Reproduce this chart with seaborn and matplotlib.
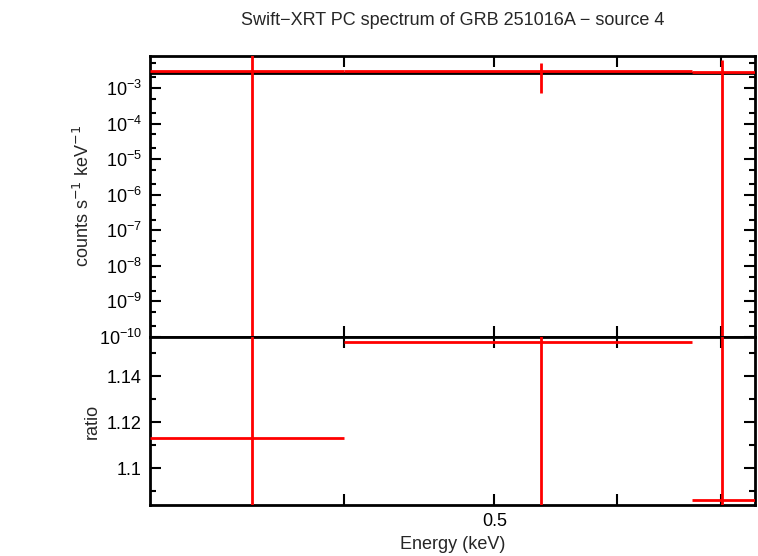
import numpy as np
import matplotlib
matplotlib.use('Agg')
import matplotlib.pyplot as plt
import matplotlib.ticker as mticker
import seaborn as sns

sns.set_style('white')
plt.rcParams['font.family'] = ['Liberation Sans', 'DejaVu Sans']

# data
energy = [0.349, 0.536, 0.701]
e_lo = [0.300, 0.400, 0.670]
e_hi = [0.400, 0.670, 0.760]
model = 2.7e-3
rate = [3.0e-3, 3.1e-3, 2.9e-3]
rate_lo = [1e-12, 7.2e-4, 1e-12]
rate_hi = [1e-1, 5.0e-3, 6.2e-3]
ratio = [1.113, 1.155, 1.086]
ratio_lo = [1.0, 1.0, 1.0]
ratio_hi = [1.2, 1.2, 1.2]

fig = plt.figure(figsize=(7.58, 5.56), dpi=100)
ax1 = fig.add_axes([150/758, 1-337/556, 605/758, 281/556])
ax2 = fig.add_axes([150/758, 1-505/556, 605/758, 168/556], sharex=ax1)

xerr = [np.subtract(energy, e_lo), np.subtract(e_hi, energy)]

ax1.errorbar(energy, rate, xerr=xerr,
             yerr=[np.subtract(rate, rate_lo), np.subtract(rate_hi, rate)],
             fmt='none', ecolor='red', elinewidth=2, zorder=3)
ax1.hlines(model, 0.3, 0.8, color='black', lw=2, zorder=2)
ax1.set_yscale('log')
ax1.set_ylim(1e-10, 10**-2.1)
ax1.yaxis.set_major_locator(mticker.LogLocator(base=10, numticks=20))
ax1.yaxis.set_minor_locator(mticker.LogLocator(base=10, subs=(2.0, 5.0), numticks=20))
ax1.yaxis.set_minor_formatter(mticker.NullFormatter())
ax1.set_ylabel('counts s$^{-1}$ keV$^{-1}$', fontsize=13)
ax1.set_title('Swift\u2212XRT PC spectrum of GRB 251016A \u2212 source 4', fontsize=13, pad=22)
plt.setp(ax1.get_xticklabels(), visible=False)

ax2.errorbar(energy, ratio, xerr=xerr,
             yerr=[np.subtract(ratio, ratio_lo), np.subtract(ratio_hi, ratio)],
             fmt='none', ecolor='red', elinewidth=2, zorder=3)
ax2.set_ylim(1.084, 1.157)
ax2.set_yticks([1.1, 1.12, 1.14])
ax2.set_yticklabels(['1.1', '1.12', '1.14'])
ax2.yaxis.set_minor_locator(mticker.MultipleLocator(0.01))
ax2.set_ylabel('ratio', fontsize=13)
ax2.set_xlabel('Energy (keV)', fontsize=13, labelpad=4)

ax1.set_xscale('log')
ax1.set_xlim(0.3, 0.736)
ax2.xaxis.set_major_locator(mticker.FixedLocator([0.4, 0.5, 0.6, 0.7]))
ax2.xaxis.set_major_formatter(mticker.FixedFormatter(['', '0.5', '', '']))
ax2.xaxis.set_minor_locator(mticker.NullLocator())

for ax in (ax1, ax2):
    for s in ax.spines.values():
        s.set_linewidth(2)
        s.set_color('black')
    ax.tick_params(which='both', direction='in', left=True, bottom=True,
                   top=True, right=True, labelsize=13, width=1.5, colors='black')
    ax.tick_params(which='major', length=8, pad=6)
    ax.tick_params(which='minor', length=4)

fig.savefig('out.png', dpi=100)
